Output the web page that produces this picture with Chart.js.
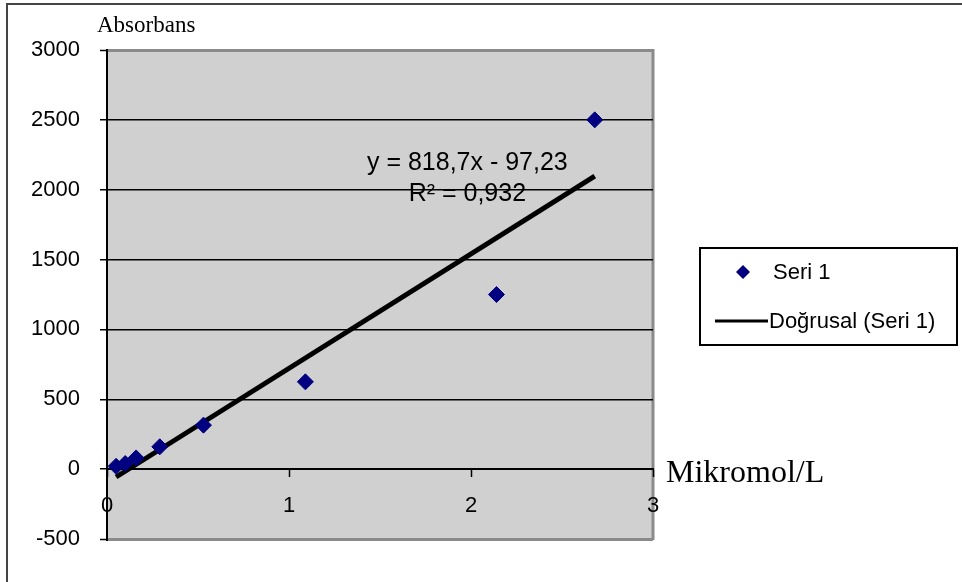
<!DOCTYPE html>
<html>
<head>
<meta charset="utf-8">
<script src="https://cdn.jsdelivr.net/npm/chart.js@4"></script>
<style>
  body { margin: 0; background: #fff; }
  canvas { display: block; }
</style>
</head>
<body>
<canvas id="myChart" width="962" height="582"></canvas>
<script>
// konsantrasyon (Mikromol/L) ve absorbans
const konsantrasyon = [0.05, 0.1, 0.16, 0.29, 0.53, 1.09, 2.14, 2.68];
const absorbans = [20, 40, 80, 160, 315, 625, 1250, 2500];

// trend çizgisi katsayilari
const egim = 818.7;
const kesim = -97.23;
const r2 = '0,932';

const yTicks = [-500, 0, 500, 1000, 1500, 2000, 2500, 3000];
const xTicks = [0, 1, 2, 3];

const seriLabel = 'Seri 1';
const trendLabel = 'Doğrusal (Seri 1)';

const noktalar = konsantrasyon.map((x, i) => ({ x: x, y: absorbans[i] }));
const xMin = Math.min(...konsantrasyon);
const xMax = Math.max(...konsantrasyon);
const trend = [
    { x: xMin, y: egim * xMin + kesim },
    { x: xMax, y: egim * xMax + kesim }
];

const arkaPlan = {
    id: 'arkaPlan',
    beforeDraw(chart) {
        const c = chart.ctx, a = chart.chartArea;
        c.save();
        c.fillStyle = '#fff';
        c.fillRect(0, 0, chart.width, chart.height);
        c.fillStyle = '#d0d0d0';
        c.fillRect(a.left, a.top, a.right - a.left, a.bottom - a.top);
        // sag kenar (tik yazilarinin altinda kalsin)
        c.strokeStyle = '#8a8a8a';
        c.lineWidth = 3;
        c.beginPath();
        c.moveTo(a.right, a.top - 1);
        c.lineTo(a.right, a.bottom + 1);
        c.stroke();
        c.restore();
    },
    afterDraw(chart) {
        const c = chart.ctx, a = chart.chartArea;
        const xs = chart.scales.x, ys = chart.scales.y;
        c.save();
        // dis cerceve
        c.strokeStyle = '#444';
        c.lineWidth = 2;
        c.strokeRect(7, 4, 1000, 700);

        // eksen basliklari
        c.fillStyle = '#000';
        c.font = '23px "Liberation Serif", "Times New Roman", serif';
        c.textAlign = 'left';
        c.textBaseline = 'middle';
        c.fillText('Absorbans', 97, 26);
        c.font = '32px "Liberation Serif", "Times New Roman", serif';
        c.fillText('Mikromol/L', a.right + 13, ys.getPixelForValue(0) + 4);

        // denklem
        c.font = '25px "Liberation Sans", Arial, sans-serif';
        c.textAlign = 'center';
        const ex = xs.getPixelForValue(1.98);
        const ey = ys.getPixelForValue(2190);
        c.fillText('y = 818,7x - 97,23', ex, ey);
        c.fillText('R² = ' + r2, ex, ey + 31);

        // legend
        const lx = 700, ly = 248, lw = 257, lh = 97;
        c.fillStyle = '#fff';
        c.fillRect(lx, ly, lw, lh);
        c.strokeStyle = '#000';
        c.lineWidth = 2;
        c.strokeRect(lx, ly, lw, lh);
        c.font = '22px "Liberation Sans", Arial, sans-serif';
        c.textAlign = 'left';
        const d0 = chart.data.datasets[0], d1 = chart.data.datasets[1];
        c.fillStyle = d0.backgroundColor;
        c.beginPath();
        c.moveTo(743, 265); c.lineTo(750, 272); c.lineTo(743, 279); c.lineTo(736, 272);
        c.closePath();
        c.fill();
        c.fillStyle = '#000';
        c.fillText(d0.label, 773, 273);
        c.strokeStyle = d1.borderColor;
        c.lineWidth = 3;
        c.beginPath();
        c.moveTo(715, 321); c.lineTo(768, 321);
        c.stroke();
        c.fillText(d1.label, 769, 322);
        c.restore();
    }
};

const ctx = document.getElementById('myChart').getContext('2d');
const chart = new Chart(ctx, {
    type: 'scatter',
    data: {
        datasets: [{
            label: seriLabel,
            data: noktalar,
            backgroundColor: '#000080',
            borderColor: '#000080',
            pointStyle: 'rectRot',
            pointRadius: 8,
            pointHoverRadius: 8,
            showLine: false
        }, {
            label: trendLabel,
            data: trend,
            type: 'line',
            borderColor: '#000',
            borderWidth: 5,
            pointRadius: 0,
            fill: false
        }]
    },
    options: {
        responsive: false,
        animation: false,
        layout: { padding: { left: 0, top: 50, right: 309, bottom: 43 } },
        plugins: {
            legend: { display: false },
            tooltip: { enabled: false }
        },
        scales: {
            x: {
                type: 'linear',
                position: { y: 0 },
                min: 0,
                max: 3,
                afterBuildTicks: (s) => { s.ticks = xTicks.map(v => ({ value: v })); },
                ticks: {
                    color: '#000',
                    padding: 17,
                    callback: (v) => String(v),
                    font: { family: '"Liberation Sans", Arial, sans-serif', size: 22 }
                },
                grid: {
                    drawOnChartArea: false,
                    drawTicks: true,
                    tickLength: 7,
                    tickColor: '#000',
                    tickWidth: 1.5
                },
                border: { color: '#000', width: 2 }
            },
            y: {
                type: 'linear',
                min: -500,
                max: 3000,
                afterBuildTicks: (s) => { s.ticks = yTicks.map(v => ({ value: v })); },
                afterFit: (s) => { s.width = 107; },
                ticks: {
                    color: '#000',
                    padding: 20,
                    callback: (v) => String(v),
                    font: { family: '"Liberation Sans", Arial, sans-serif', size: 22 }
                },
                grid: {
                    color: (c) => (c.tick && (c.tick.value === 3000 || c.tick.value === -500)) ? '#8a8a8a' : '#000',
                    lineWidth: (c) => (c.tick && (c.tick.value === 3000 || c.tick.value === -500)) ? 3 : 1.5,
                    tickLength: 7,
                    tickColor: '#000',
                    tickWidth: 1.5
                },
                border: { color: '#000', width: 2 }
            }
        }
    },
    plugins: [arkaPlan]
});
</script>
</body>
</html>
